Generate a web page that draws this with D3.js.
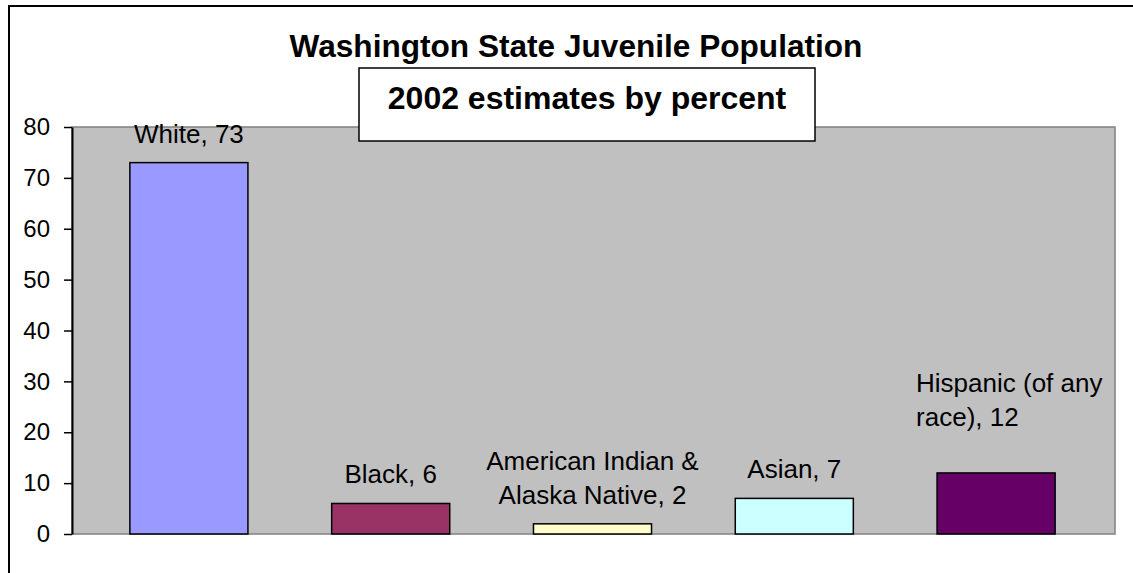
<!DOCTYPE html>
<html>
<head>
<meta charset="utf-8">
<script src="https://cdn.jsdelivr.net/npm/d3@7"></script>
<style>
  html, body { margin: 0; padding: 0; background: #ffffff; }
  svg { display: block; }
  text { font-family: "Liberation Sans", Arial, sans-serif; fill: #000; }
</style>
</head>
<body>
<svg id="chart" width="1133" height="573"></svg>
<script>
// Washington State juvenile population, 2002 estimates (percent)
const categories = ["White", "Black", "American Indian & Alaska Native", "Asian", "Hispanic (of any race)"];
const percents = [73, 6, 2, 7, 12];
const barColors = ["#9999FF", "#993366", "#FFFFCC", "#CCFFFF", "#660066"];
const yTicks = [0, 10, 20, 30, 40, 50, 60, 70, 80];
const titleText = "Washington State Juvenile Population";
const subtitleText = "2002 estimates by percent";

const svg = d3.select("#chart");

// outer chart frame (only top and left edges fall inside the page)
svg.append("rect")
  .attr("x", 9).attr("y", 6)
  .attr("width", 1400).attr("height", 900)
  .attr("fill", "#ffffff")
  .attr("stroke", "#000").attr("stroke-width", 2);

// plot area
const plot = { left: 72, right: 1115, top: 127, bottom: 534 };

const y = d3.scaleLinear().domain([0, 80]).range([plot.bottom, plot.top]);
const x = d3.scaleBand()
  .domain(categories)
  .range([88, 1097])
  .paddingInner(0.415)
  .paddingOuter(0.2075);

svg.append("rect")
  .attr("x", plot.left).attr("y", plot.top)
  .attr("width", plot.right - plot.left)
  .attr("height", plot.bottom - plot.top)
  .attr("fill", "#C0C0C0")
  .attr("stroke", "#808080").attr("stroke-width", 1.5);

// bars
const rows = categories.map((c, i) => ({ cat: c, val: percents[i], color: barColors[i] }));

svg.append("g").selectAll("rect")
  .data(rows)
  .join("rect")
  .attr("x", d => x(d.cat))
  .attr("y", d => y(d.val))
  .attr("width", x.bandwidth())
  .attr("height", d => y(0) - y(d.val))
  .attr("fill", d => d.color)
  .attr("stroke", "#000")
  .attr("stroke-width", 1.5);

// y axis
const yAxis = d3.axisLeft(y)
  .tickValues(yTicks)
  .tickSize(8)
  .tickSizeOuter(0)
  .tickPadding(14);

const gy = svg.append("g")
  .attr("transform", `translate(${plot.left},0)`)
  .call(yAxis);
gy.select(".domain").attr("stroke", "#000").attr("stroke-width", 2);
gy.selectAll(".tick line").attr("stroke", "#000").attr("stroke-width", 1.5);
gy.selectAll(".tick text")
  .attr("font-family", "'Liberation Sans', Arial, sans-serif")
  .attr("font-size", 24)
  .attr("fill", "#000");

// data labels "category, value", wrapped when wider than the slot
const lineHeight = 34;
const wrapWidth = 218;
const labels = svg.append("g");

rows.forEach((d, i) => {
  const last = i === rows.length - 1;
  const t = labels.append("text")
    .attr("font-size", 26)
    .attr("text-anchor", last ? "start" : "middle");

  // break the label into lines by measuring words
  const words = `${d.cat}, ${d.val}`.split(" ");
  const lines = [];
  let cur = [];
  const probe = t.append("tspan");
  words.forEach(w => {
    const test = cur.concat([w]).join(" ");
    probe.text(test);
    if (cur.length && probe.node().getComputedTextLength() > wrapWidth) {
      lines.push(cur.join(" "));
      cur = [w];
    } else {
      cur.push(w);
    }
  });
  lines.push(cur.join(" "));
  probe.remove();

  const ax = last ? x(d.cat) - 21 : x(d.cat) + x.bandwidth() / 2;
  const baseBottom = y(d.val) - (last ? 47 : 20);
  lines.forEach((ln, k) => {
    t.append("tspan")
      .attr("x", ax)
      .attr("y", baseBottom - (lines.length - 1 - k) * lineHeight)
      .text(ln);
  });
});

// title
svg.append("text")
  .attr("x", 576).attr("y", 57)
  .attr("text-anchor", "middle")
  .attr("font-size", 31.6)
  .attr("font-weight", "bold")
  .text(titleText);

// subtitle in a boxed label overlapping the plot top
svg.append("rect")
  .attr("x", 359).attr("y", 68)
  .attr("width", 456).attr("height", 73)
  .attr("fill", "#ffffff")
  .attr("stroke", "#000").attr("stroke-width", 1.5);

svg.append("text")
  .attr("x", 587).attr("y", 109)
  .attr("text-anchor", "middle")
  .attr("font-size", 32)
  .attr("font-weight", "bold")
  .text(subtitleText);
</script>
</body>
</html>
